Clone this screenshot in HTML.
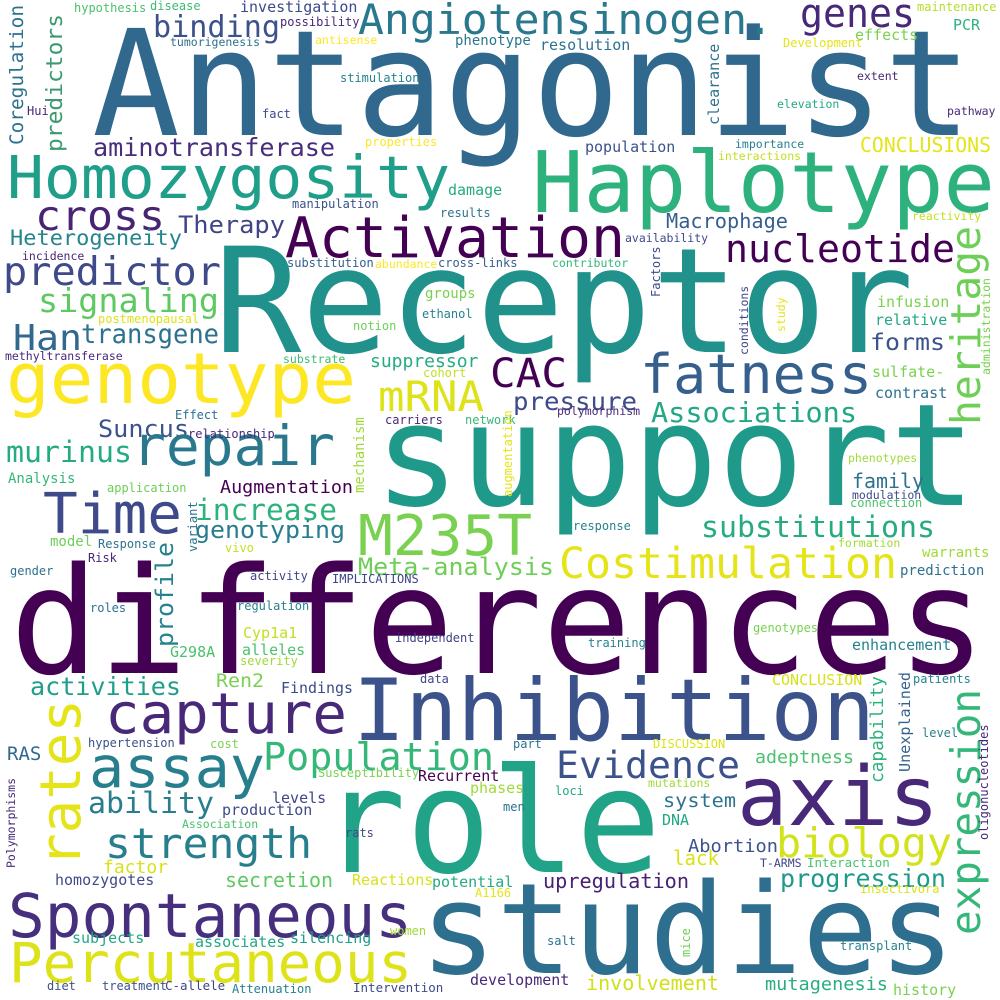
<!DOCTYPE html>
<html><head><meta charset="utf-8">
<style>
html,body{margin:0;padding:0;background:#fff;}
svg{display:block;}
text{font-family:"DejaVu Sans Mono","Liberation Mono",monospace;}
</style></head>
<body>
<svg width="1000" height="1000" viewBox="0 0 1000 1000">
<rect width="1000" height="1000" fill="#fff"/>
<!-- large / medium words -->
<text x="92" y="135" font-size="147" fill="#31688e" textLength="880" lengthAdjust="spacingAndGlyphs">Antagonist</text>
<text x="358" y="34" font-size="42" fill="#2a788e" textLength="415" lengthAdjust="spacingAndGlyphs">Angiotensinogen.</text>
<text x="800" y="27" font-size="40" fill="#482878" textLength="115" lengthAdjust="spacingAndGlyphs">genes</text>
<text x="153" y="37" font-size="30" fill="#3b528b" textLength="127" lengthAdjust="spacingAndGlyphs">binding</text>
<text x="93" y="156" font-size="25" fill="#472d7b" textLength="242" lengthAdjust="spacingAndGlyphs">aminotransferase</text>
<text x="7" y="198" font-size="59" fill="#1f9e89" textLength="443" lengthAdjust="spacingAndGlyphs">Homozygosity</text>
<text x="35" y="230" font-size="41" fill="#482475" textLength="130" lengthAdjust="spacingAndGlyphs">cross</text>
<text x="178" y="233" font-size="24" fill="#414487" textLength="107" lengthAdjust="spacingAndGlyphs">Therapy</text>
<text x="285" y="257" font-size="56" fill="#440154" textLength="340" lengthAdjust="spacingAndGlyphs">Activation</text>
<text x="10" y="245" font-size="21" fill="#25858e" textLength="172" lengthAdjust="spacingAndGlyphs">Heterogeneity</text>
<text x="3" y="285" font-size="39" fill="#3e4a89" textLength="218" lengthAdjust="spacingAndGlyphs">predictor</text>
<text x="38" y="312" font-size="33" fill="#5ec962" textLength="181" lengthAdjust="spacingAndGlyphs">signaling</text>
<text x="13" y="350" font-size="36" fill="#31688e" textLength="69" lengthAdjust="spacingAndGlyphs">Han</text>
<text x="81" y="343" font-size="27" fill="#2c728e" textLength="138" lengthAdjust="spacingAndGlyphs">transgene</text>
<text x="6" y="403" font-size="70" fill="#fde725" textLength="350" lengthAdjust="spacingAndGlyphs">genotype</text>
<text x="378" y="411" font-size="42" fill="#dde318" textLength="106" lengthAdjust="spacingAndGlyphs">mRNA</text>
<text x="490" y="387" font-size="40" fill="#440154" textLength="77" lengthAdjust="spacingAndGlyphs">CAC</text>
<text x="214" y="352" font-size="146" fill="#21918c" textLength="700" lengthAdjust="spacingAndGlyphs">Receptor</text>
<text x="532" y="212" font-size="85" fill="#2db27d" textLength="463" lengthAdjust="spacingAndGlyphs">Haplotype</text>
<text x="725" y="262" font-size="38" fill="#440154" textLength="230" lengthAdjust="spacingAndGlyphs">nucleotide</text>
<text x="666" y="228" font-size="20" fill="#355f8d" textLength="122" lengthAdjust="spacingAndGlyphs">Macrophage</text>
<text x="860" y="152" font-size="20" fill="#e5e419" textLength="131" lengthAdjust="spacingAndGlyphs">CONCLUSIONS</text>
<text transform="translate(980,425) rotate(-90)" font-size="41" fill="#6ece58" textLength="199" lengthAdjust="spacingAndGlyphs">heritage</text>
<text x="640" y="393" font-size="54" fill="#355f8d" textLength="232" lengthAdjust="spacingAndGlyphs">fatness</text>
<text x="870" y="350" font-size="23" fill="#3b528b" textLength="75" lengthAdjust="spacingAndGlyphs">forms</text>
<text x="513" y="410" font-size="25" fill="#3e4a89" textLength="124" lengthAdjust="spacingAndGlyphs">pressure</text>
<text x="651" y="422" font-size="28" fill="#22a884" textLength="206" lengthAdjust="spacingAndGlyphs">Associations</text>
<text x="374" y="505" font-size="142" fill="#1f9a8a" textLength="602" lengthAdjust="spacingAndGlyphs">support</text>
<text x="98" y="437" font-size="24" fill="#3b528b" textLength="91" lengthAdjust="spacingAndGlyphs">Suncus</text>
<text x="6" y="462" font-size="29" fill="#25ab82" textLength="126" lengthAdjust="spacingAndGlyphs">murinus</text>
<text x="132" y="465" font-size="55" fill="#2a788e" textLength="203" lengthAdjust="spacingAndGlyphs">repair</text>
<text x="220" y="493" font-size="18" fill="#440154" textLength="133" lengthAdjust="spacingAndGlyphs">Augmentation</text>
<text x="852" y="488" font-size="20" fill="#2c728e" textLength="72" lengthAdjust="spacingAndGlyphs">family</text>
<text x="43" y="533" font-size="56" fill="#3e4a89" textLength="139" lengthAdjust="spacingAndGlyphs">Time</text>
<text x="195" y="520" font-size="29" fill="#2db27d" textLength="142" lengthAdjust="spacingAndGlyphs">increase</text>
<text x="195" y="538" font-size="24" fill="#287d8e" textLength="150" lengthAdjust="spacingAndGlyphs">genotyping</text>
<text x="358" y="555" font-size="56" fill="#7ad151" textLength="174" lengthAdjust="spacingAndGlyphs">M235T</text>
<text x="358" y="575" font-size="24" fill="#6ece58" textLength="196" lengthAdjust="spacingAndGlyphs">Meta-analysis</text>
<text x="559" y="578" font-size="43" fill="#e5e419" textLength="338" lengthAdjust="spacingAndGlyphs">Costimulation</text>
<text x="701" y="537" font-size="29" fill="#25ab82" textLength="234" lengthAdjust="spacingAndGlyphs">substitutions</text>
<text x="10" y="673" font-size="148" fill="#440154" textLength="976" lengthAdjust="spacingAndGlyphs">differences</text>
<text transform="translate(173,647) rotate(-90)" font-size="24" fill="#26828e" textLength="105" lengthAdjust="spacingAndGlyphs">profile</text>
<text x="30" y="695" font-size="25" fill="#1f9e89" textLength="151" lengthAdjust="spacingAndGlyphs">activities</text>
<text x="216" y="687" font-size="19" fill="#7ad151" textLength="48" lengthAdjust="spacingAndGlyphs">Ren2</text>
<text x="281" y="693" font-size="15" fill="#3e4a89" textLength="72" lengthAdjust="spacingAndGlyphs">Findings</text>
<text x="105" y="733" font-size="56" fill="#482878" textLength="242" lengthAdjust="spacingAndGlyphs">capture</text>
<text x="353" y="740" font-size="86" fill="#3b528b" textLength="522" lengthAdjust="spacingAndGlyphs">Inhibition</text>
<text transform="translate(80,867) rotate(-90)" font-size="56" fill="#e5e419" textLength="168" lengthAdjust="spacingAndGlyphs">rates</text>
<text x="89" y="787" font-size="57" fill="#277f8e" textLength="176" lengthAdjust="spacingAndGlyphs">assay</text>
<text x="263" y="770" font-size="38" fill="#35b779" textLength="231" lengthAdjust="spacingAndGlyphs">Population</text>
<text x="556" y="778" font-size="37" fill="#3b528b" textLength="184" lengthAdjust="spacingAndGlyphs">Evidence</text>
<text x="321" y="872" font-size="145" fill="#20a386" textLength="340" lengthAdjust="spacingAndGlyphs">role</text>
<text x="737" y="825" font-size="82" fill="#482878" textLength="202" lengthAdjust="spacingAndGlyphs">axis</text>
<text x="776" y="857" font-size="41" fill="#d2e21b" textLength="176" lengthAdjust="spacingAndGlyphs">biology</text>
<text x="755" y="763" font-size="18" fill="#4ac16d" textLength="99" lengthAdjust="spacingAndGlyphs">adeptness</text>
<text transform="translate(883,783) rotate(-90)" font-size="18" fill="#2db27d" textLength="107" lengthAdjust="spacingAndGlyphs">capability</text>
<text transform="translate(910,772) rotate(-90)" font-size="15" fill="#33638d" textLength="100" lengthAdjust="spacingAndGlyphs">Unexplained</text>
<text transform="translate(980,935) rotate(-90)" font-size="41" fill="#35b779" textLength="246" lengthAdjust="spacingAndGlyphs">expression</text>
<text x="88" y="813" font-size="29" fill="#287d8e" textLength="126" lengthAdjust="spacingAndGlyphs">ability</text>
<text x="105" y="858" font-size="42" fill="#277f8e" textLength="207" lengthAdjust="spacingAndGlyphs">strength</text>
<text x="663" y="807" font-size="19" fill="#2c728e" textLength="73" lengthAdjust="spacingAndGlyphs">system</text>
<text x="688" y="852" font-size="18" fill="#3b528b" textLength="90" lengthAdjust="spacingAndGlyphs">Abortion</text>
<text x="673" y="865" font-size="20" fill="#d8e219" textLength="46" lengthAdjust="spacingAndGlyphs">lack</text>
<text x="103" y="873" font-size="18" fill="#d8e219" textLength="65" lengthAdjust="spacingAndGlyphs">factor</text>
<text x="225" y="887" font-size="20" fill="#5ec962" textLength="108" lengthAdjust="spacingAndGlyphs">secretion</text>
<text x="543" y="888" font-size="20" fill="#482173" textLength="146" lengthAdjust="spacingAndGlyphs">upregulation</text>
<text x="752" y="888" font-size="34" fill="#2c728e">.</text>
<text x="780" y="887" font-size="25" fill="#1f9a8a" textLength="166" lengthAdjust="spacingAndGlyphs">progression</text>
<text x="8" y="937" font-size="61" fill="#46307e" textLength="404" lengthAdjust="spacingAndGlyphs">Spontaneous</text>
<text x="420" y="973" font-size="126" fill="#2e6e8e" textLength="535" lengthAdjust="spacingAndGlyphs">studies</text>
<text x="9" y="982" font-size="55" fill="#dde318" textLength="403" lengthAdjust="spacingAndGlyphs">Percutaneous</text>
<text x="586" y="990" font-size="20" fill="#d0e11c" textLength="133" lengthAdjust="spacingAndGlyphs">involvement</text>
<text x="765" y="990" font-size="18" fill="#29af7f" textLength="123" lengthAdjust="spacingAndGlyphs">mutagenesis</text>
<text transform="translate(23,145) rotate(-90)" font-size="19" fill="#2c728e" textLength="140" lengthAdjust="spacingAndGlyphs">Coregulation</text>
<text transform="translate(62,152) rotate(-90)" font-size="22" fill="#3b9a6f" textLength="138" lengthAdjust="spacingAndGlyphs">predictors</text>
<!-- small words -->
<g font-size="12">
<text x="74" y="12" fill="#4ac16d">hypothesis</text>
<text x="150" y="10" fill="#3bbb75">disease</text>
<text x="240" y="12" font-size="15" fill="#3e4a89">investigation</text>
<text x="280" y="26" fill="#482878">possibility</text>
<text x="170" y="46" font-size="11.5" fill="#2c728e">tumorigenesis</text>
<text x="315" y="44" font-size="11.5" fill="#fde725">antisense</text>
<text x="455" y="45" font-size="14" fill="#2a788e">phenotype</text>
<text x="540" y="50" font-size="15" fill="#2c728e">resolution</text>
<text x="917" y="11" fill="#b5de2b">maintenance</text>
<text x="953" y="30" font-size="15" fill="#2db27d">PCR</text>
<text x="855" y="40" font-size="15" fill="#7ad151">effects</text>
<text x="783" y="47" fill="#e5e419">Development</text>
<text transform="translate(719,125) rotate(-90)" font-size="15" fill="#2c728e">clearance</text>
<text x="340" y="82" fill="#26828e">stimulation</text>
<text x="857" y="80" font-size="11.5" fill="#482878">extent</text>
<text x="777" y="108" font-size="11.5" fill="#22a884">elevation</text>
<text x="947" y="115" font-size="11.5" fill="#482878">pathway</text>
<text x="27" y="115" fill="#482878">Hui</text>
<text x="262" y="118" fill="#3e4a89">fact</text>
<text x="365" y="146" fill="#fde725">properties</text>
<text x="585" y="152" font-size="15" fill="#3b528b">population</text>
<text x="735" y="148" font-size="11.5" fill="#26828e">importance</text>
<text x="718" y="160" font-size="11.5" fill="#c2df23">interactions</text>
<text x="448" y="195" font-size="15" fill="#25ab82">damage</text>
<text x="292" y="208" fill="#3b528b">manipulation</text>
<text x="440" y="217" fill="#2c728e">results</text>
<text x="912" y="220" font-size="11.5" fill="#c2df23">reactivity</text>
<text x="625" y="242" font-size="11.5" fill="#3e4a89">availability</text>
<text x="22" y="260" font-size="11.5" fill="#482878">incidence</text>
<text x="287" y="267" fill="#355f8d">substitution</text>
<text x="375" y="268" font-size="11.5" fill="#fde725">abundance</text>
<text x="438" y="267" fill="#355f8d">cross-links</text>
<text x="552" y="267" font-size="11.5" fill="#35b779">contributor</text>
<text x="98" y="323" fill="#dde318">postmenopausal</text>
<text x="425" y="298" font-size="14" fill="#7ad151">groups</text>
<text x="422" y="318" fill="#26828e">ethanol</text>
<text x="353" y="330" fill="#6ece58">notion</text>
<text transform="translate(660,297) rotate(-90)" fill="#3e4a89">Factors</text>
<text transform="translate(748,355) rotate(-90)" font-size="11.5" fill="#414487">conditions</text>
<text transform="translate(785,332) rotate(-90)" font-size="11.5" fill="#e5e419">study</text>
<text transform="translate(990,375) rotate(-90)" font-size="11.5" fill="#7ad151">administration</text>
<text x="877" y="307" font-size="15" fill="#7ad151">infusion</text>
<text x="875" y="325" font-size="15" fill="#22a884">relative</text>
<text x="5" y="360" font-size="11.5" fill="#482878">methyltransferase</text>
<text x="283" y="363" font-size="11.5" fill="#3bbb75">substrate</text>
<text x="370" y="367" font-size="18" fill="#25ab82">suppressor</text>
<text x="423" y="377" fill="#c2df23">cohort</text>
<text x="872" y="377" font-size="15" fill="#7ad151">sulfate-</text>
<text x="875" y="398" font-size="15" fill="#2c728e">contrast</text>
<text x="557" y="415" font-size="11.5" fill="#482878">polymorphism</text>
<text x="175" y="419" fill="#2c728e">Effect</text>
<text x="188" y="438" fill="#482878">relationship</text>
<text x="385" y="424" fill="#482878">carriers</text>
<text x="465" y="424" fill="#35b779">network</text>
<text transform="translate(364,493) rotate(-90)" font-size="14" fill="#a0da39">mechanism</text>
<text transform="translate(512,497) rotate(-90)" fill="#e5e419">augmentation</text>
<text x="8" y="483" font-size="14" fill="#35b779">Analysis</text>
<text x="107" y="492" fill="#6ece58">application</text>
<text x="848" y="462" font-size="11.5" fill="#a0da39">phenotypes</text>
<text x="852" y="499" font-size="11.5" fill="#3e4a89">modulation</text>
<text x="850" y="507" fill="#4ac16d">connection</text>
<text transform="translate(197,552) rotate(-90)" fill="#2c728e">variant</text>
<text x="573" y="530" fill="#26828e">response</text>
<text x="50" y="546" font-size="14" fill="#6ece58">model</text>
<text x="98" y="548" fill="#2c728e">Response</text>
<text x="225" y="552" fill="#c2df23">vivo</text>
<text x="838" y="547" font-size="11.5" fill="#a0da39">formation</text>
<text x="922" y="557" font-size="14" fill="#a0da39">warrants</text>
<text x="88" y="562" fill="#482878">Risk</text>
<text x="10" y="575" fill="#2c728e">gender</text>
<text x="250" y="580" fill="#414487">activity</text>
<text x="332" y="583" fill="#414487">IMPLICATIONS</text>
<text x="900" y="575" font-size="14" fill="#2c728e">prediction</text>
<text x="237" y="610" fill="#26828e">regulation</text>
<text x="90" y="612" fill="#2c728e">roles</text>
<text x="243" y="638" font-size="15" fill="#c2df23">Cyp1a1</text>
<text x="395" y="642" fill="#414487">independent</text>
<text x="588" y="647" fill="#26828e">training</text>
<text x="753" y="632" fill="#7ad151">genotypes</text>
<text x="852" y="650" font-size="15" fill="#26828e">enhancement</text>
<text x="170" y="657" font-size="15" fill="#4ac16d">G298A</text>
<text x="242" y="655" font-size="15" fill="#4ac16d">alleles</text>
<text x="240" y="665" fill="#a0da39">severity</text>
<text x="772" y="685" font-size="15" fill="#d8e219">CONCLUSION</text>
<text x="420" y="683" fill="#414487">data</text>
<text x="913" y="683" fill="#26828e">patients</text>
<text transform="translate(988,840) rotate(-90)" fill="#482878">oligonucleotides</text>
<text x="922" y="737" fill="#26828e">level</text>
<text x="88" y="747" fill="#3b528b">hypertension</text>
<text x="210" y="748" fill="#7ad151">cost</text>
<text x="513" y="748" fill="#2c728e">part</text>
<text x="653" y="748" fill="#dde318">DISCUSSION</text>
<text x="7" y="760" font-size="19" fill="#31688e">RAS</text>
<text x="318" y="777" fill="#7ad151">Susceptibility</text>
<text x="418" y="781" font-size="15" fill="#440154">Recurrent</text>
<text x="555" y="795" fill="#22a884">loci</text>
<text x="648" y="787" font-size="11.5" fill="#a0da39">mutations</text>
<text x="470" y="793" font-size="15" fill="#a0da39">phases</text>
<text x="503" y="811" fill="#2c728e">men</text>
<text x="662" y="825" font-size="15" fill="#22a884">DNA</text>
<text x="272" y="803" font-size="15" fill="#414487">levels</text>
<text x="222" y="815" font-size="15" fill="#3e4a89">production</text>
<text x="182" y="828" font-size="11.5" fill="#4ac16d">Association</text>
<text x="345" y="837" fill="#3e4a89">rats</text>
<text transform="translate(15,868) rotate(-90)" font-size="11.5" fill="#482878">Polymorphisms</text>
<text x="55" y="885" font-size="15" fill="#3e4a89">homozygotes</text>
<text x="352" y="885" font-size="15" fill="#d8e219">Reactions</text>
<text x="432" y="887" font-size="15" fill="#25ab82">potential</text>
<text x="475" y="897" fill="#e5e419">A1166</text>
<text x="760" y="867" font-size="11.5" fill="#414487">T-ARMS</text>
<text x="807" y="867" font-size="12.5" fill="#4ac16d">Interaction</text>
<text x="860" y="893" fill="#d8e219">insectivora</text>
<text x="72" y="943" font-size="15" fill="#22a884">subjects</text>
<text x="195" y="947" font-size="15" fill="#22a884">associates</text>
<text x="290" y="943" font-size="15" fill="#1f9e89">silencing</text>
<text x="390" y="935" fill="#a0da39">women</text>
<text x="547" y="945" fill="#2c728e">salt</text>
<text transform="translate(690,957) rotate(-90)" fill="#6ece58">mice</text>
<text x="840" y="950" fill="#26828e">transplant</text>
<text x="47" y="990" fill="#3b528b">diet</text>
<text x="102" y="990" fill="#3b528b">treatment</text>
<text x="165" y="990" font-size="12.5" fill="#414487">C-allele</text>
<text x="232" y="993" fill="#26828e">Attenuation</text>
<text x="353" y="992" font-size="12.5" fill="#3e4a89">Intervention</text>
<text x="470" y="985" font-size="15" fill="#482878">development</text>
<text x="893" y="995" font-size="15" fill="#7ad151">history</text>
</g>
</svg>
</body></html>
